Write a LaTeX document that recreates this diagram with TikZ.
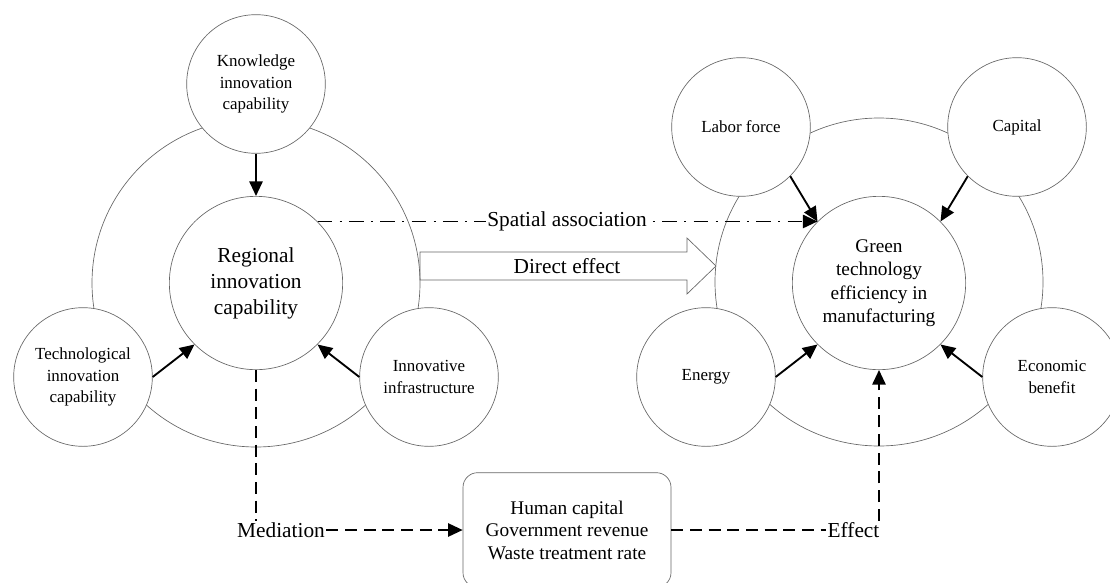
\documentclass[tikz,border=0pt]{standalone}
\usepackage{fontspec}
\setmainfont{Liberation Serif}
\usetikzlibrary{arrows.meta}

\tikzset{
	ringline/.style={circle, draw=black!60, line width=0.5pt, minimum size=246pt, inner sep=0pt},
	factor/.style={circle, draw=black!60, fill=white, line width=0.5pt, minimum size=104pt, inner sep=0pt, align=center, font=\fontsize{12.7}{15.8}\selectfont},
	core/.style={circle, draw=black!60, fill=white, line width=0.5pt, minimum size=130pt, inner sep=0pt, align=center},
	tip/.style={-{Triangle[length=11pt,width=10pt]}},
	influence/.style={tip, line width=1.4pt, draw=black},
	spatialline/.style={tip, line width=1.4pt, dash pattern={on 11pt off 5.5pt on 1.5pt off 5.5pt}},
	mediationline/.style={line width=1.4pt, dash pattern={on 9pt off 5pt}},
	pathlabel/.style={inner sep=1pt, font=\fontsize{16}{19.5}\selectfont}
}

\begin{document}
\begin{tikzpicture}[x=0.75pt,y=0.75pt,yscale=-1,xscale=1]

	\useasboundingbox (0,0) rectangle (1110,582);

	%%RINGS---------------------------------------------
	\node [ringline] (leftring) at (256,283) {};
	\node [ringline] (rightring) at (879,282) {};

	%%LEFT SYSTEM---------------------------------------------
	% Core node
	\node [core, font=\fontsize{16}{19.5}\selectfont] (regional) at (256,283) {Regional\\innovation\\capability};
	% Factor nodes
	\node [factor] (knowledge) at (256,84) {Knowledge\\innovation\\capability};
	\node [factor] (techno) at (83,377) {Technological\\innovation\\capability};
	\node [factor] (infra) at (429,377) {Innovative\\infrastructure};

	\draw [influence] (knowledge.south) -- (regional.north);
	\draw [influence] (techno.east) -- (regional.225);
	\draw [influence] (infra.west) -- (regional.-45);

	%%RIGHT SYSTEM---------------------------------------------
	% Core node
	\node [core, font=\fontsize{14.5}{17.6}\selectfont] (green) at (879,283) {Green\\technology\\efficiency in\\manufacturing};
	% Factor nodes
	\node [factor] (labor) at (741,127) {Labor force};
	\node [factor] (capital) at (1017,127) {Capital};
	\node [factor] (energy) at (706,377) {Energy};
	\node [factor] (econ) at (1052,377) {Economic\\benefit};

	\draw [influence] (labor.-45) -- (green.135);
	\draw [influence] (capital.225) -- (green.45);
	\draw [influence] (energy.east) -- (green.225);
	\draw [influence] (econ.west) -- (green.-45);

	%%LINKS---------------------------------------------
	%Spatial association
	\draw [spatialline] (regional.45) -- (green.135);
	\node [pathlabel, fill=white] (spatial) at (567,221) {Spatial association};

	%Direct effect (block arrow between the rings)
	\draw [draw=black!60, line width=0.5pt] (420,252) -- (687,252) -- (687,238) -- (716,266) -- (687,294) -- (687,280) -- (420,280) -- cycle;
	\node [pathlabel] (direct) at (567,266) {Direct effect};

	%Mediators box
	\node [draw=black!60, line width=0.5pt, rounded corners=11pt, minimum width=156pt, minimum height=86pt, align=center, font=\fontsize{14.5}{16.9}\selectfont] (mediators) at (567,530) {Human capital\\Government revenue\\Waste treatment rate};

	% Text Node
	\node [pathlabel] (mediation) at (281,530) {Mediation};
	% Text Node
	\node [pathlabel] (effect) at (853.5,530) {Effect};

	\draw [mediationline] (regional.south) -- (regional.south |- mediation.north);
	\draw [mediationline, tip] (mediation.east) -- (mediators.west);
	\draw [mediationline] (mediators.east) -- (effect.west);
	\draw [mediationline, tip] (green.south |- effect.north) -- (green.south);

\end{tikzpicture}
\end{document}
